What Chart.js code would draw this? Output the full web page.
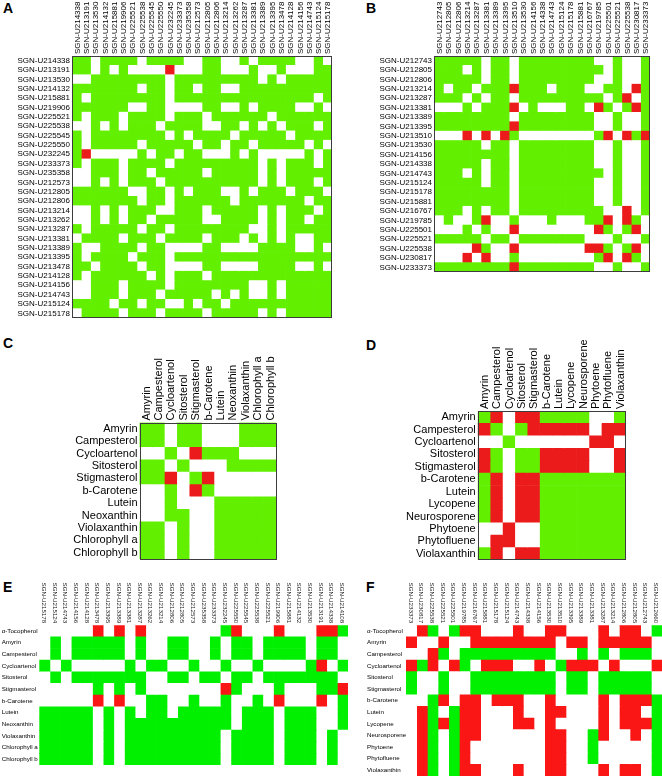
<!DOCTYPE html>
<html>
<head>
<meta charset="utf-8">
<script src="https://cdn.jsdelivr.net/npm/chart.js@4.4.1/dist/chart.umd.min.js"></script>
<style>
  body { margin: 0; background: #fff; width: 662px; height: 776px; position: relative; overflow: hidden; }
  canvas { position: absolute; }
  .tag { position: absolute; font: bold 14px Arial, "Liberation Sans", sans-serif; line-height: 14px; color: #000; }
</style>
</head>
<body>
<div class="tag" style="left:3px;top:1px">A</div>
<div class="tag" style="left:366px;top:1px">B</div>
<div class="tag" style="left:3px;top:336px">C</div>
<div class="tag" style="left:366px;top:338px">D</div>
<div class="tag" style="left:3px;top:580px">E</div>
<div class="tag" style="left:366px;top:580px">F</div>

<canvas id="chart-a" width="334" height="320" style="left:0;top:0"></canvas>
<canvas id="chart-b" width="312" height="274" style="left:340px;top:0"></canvas>
<canvas id="chart-c" width="258" height="231" style="left:20px;top:330px"></canvas>
<canvas id="chart-d" width="278" height="232" style="left:350px;top:330px"></canvas>
<canvas id="chart-e" width="348" height="195" style="left:0;top:570px"></canvas>
<canvas id="chart-f" width="302" height="206" style="left:360px;top:570px"></canvas>

<script>
// g = positive correlation (green), r = negative (red), . = not significant
const aGenes = ['SGN-U214338','SGN-U213191','SGN-U213530','SGN-U214132','SGN-U215881','SGN-U219906','SGN-U225521',
  'SGN-U225538','SGN-U225545','SGN-U225550','SGN-U232245','SGN-U233373','SGN-U235358','SGN-U212573','SGN-U212805',
  'SGN-U212806','SGN-U213214','SGN-U213262','SGN-U213287','SGN-U213381','SGN-U213389','SGN-U213395','SGN-U213478',
  'SGN-U214128','SGN-U214156','SGN-U214743','SGN-U215124','SGN-U215178'];
const aCells = [
  'gg.gggg.gggg..gg..g.gggg..g.',
  'gg.g.g....r...gg...g..g...gg',
  '..gggggggg.ggggggggg.g.ggggg',
  'ggggggg.gg.gg.gg..gggggggggg',
  'g.gggggggg.ggggggggggggggg.g',
  'gggggg..gg....gg..g.gggg..g.',
  'g.ggg.gggg.ggg.gggggg.gggggg',
  '..g.g.ggg.gggg..gg.g.g.ggg.g',
  'g.gggggggg.g.gggg.ggggg.gggg',
  'g.ggggg.ggggg.gg.gg.ggggg.g.',
  'gr.....g.gg.gg...g.g.....g.g',
  'g.ggg.gggg.ggggggggg.g.ggg.g',
  '..ggg.gg.ggggg.ggggg.g.ggggg',
  '..g.g.ggg.gggggggggg.g.ggg.g',
  'gggggg..gg.g.ggg..g.ggg.ggg.',
  'ggggggg.gg.gggggg.ggggggg.gg',
  '..g.g.ggg..ggg.ggggg.g.ggg.g',
  '..g.g.gg.ggggg..gggg.g.gg.gg',
  'g.ggggg.gg.gggggggg..g.ggggg',
  '.gggg.ggg.gggg.ggg.g.g.g..gg',
  'g..gggg.gg....gg....gggg..g.',
  'g.gggg.ggg.ggggggggggggggggg',
  'gg.gggg.gg....gg....gggg..g.',
  'g.gggggg.g.ggg.ggggggggggggg',
  '..ggg.gggg.gggggggg..g.ggggg',
  '..ggg.ggg.ggggg.g.g..g.ggggg',
  'gggg.gg.gg..g.gg.ggggggggggg',
  '.gggg.ggg.gggg.ggggg.g.ggggg'
];

const bGenes = ['SGN-U212743','SGN-U212805','SGN-U212806','SGN-U213214','SGN-U213287','SGN-U213381','SGN-U213389',
  'SGN-U213395','SGN-U213510','SGN-U213530','SGN-U214156','SGN-U214338','SGN-U214743','SGN-U215124','SGN-U215178',
  'SGN-U215881','SGN-U216767','SGN-U219785','SGN-U225501','SGN-U225521','SGN-U225538','SGN-U230817','SGN-U233373'];
const bCells = [
  'ggggg.gg.gggggggg..g..g',
  'ggg.g.gg.ggggggggg.g..g',
  'ggggg.gg.gggggggg..g..g',
  'g.gg.gggrggg.ggg..gg.rg',
  'ggg.g.gg.ggggggggg.gr.g',
  '...g.gggr.g...gg.rg.grg',
  'gggggggg.gggggggg..g..g',
  'ggggggggrgggggggg..g..g',
  '...r.r.rg........gr.rgr',
  'ggggg.gg.gggggggg..g..g',
  'gggggggg.gggggggg..g..g',
  'ggggg.gg.gggggggg..g..g',
  'ggg.g.gg.ggggggggg.g..g',
  'ggggg.gg.gggggggg..g..g',
  'gggggggg.gggggggg..g..g',
  'gggggggg.gggggggg..g..g',
  'ggg.g.gg.ggggggggg..r.g',
  '.g..gr..g...g...ggr.rg.',
  '...g.g..r........rg.gr.',
  'ggggg.gg.ggggggg...g..g',
  '....rg..r.......rrg.gr.',
  '...r.r..g........gr.rg.',
  'ggggggggrgggggggg..g..g'
];

const cMetabolites = ['Amyrin','Campesterol','Cycloartenol','Sitosterol','Stigmasterol','b-Carotene','Lutein',
  'Neoxanthin','Violaxanthin','Chlorophyll a','Chlorophyll b'];
const cCells = [
  'gg.gg...ggg',
  'gg.gg...ggg',
  '..g.rggg...',
  'gg.g...gggg',
  'ggr.gr.....',
  '..g.rg.....',
  '..g...ggggg',
  '..gg..ggggg',
  'gg.g..ggggg',
  'gg.g..ggggg',
  'gg.g..ggggg'
];

const dMetabolites = ['Amyrin','Campesterol','Cycloartenol','Sitosterol','Stigmasterol','b-Carotene','Lutein',
  'Lycopene','Neurosporene','Phytoene','Phytofluene','Violaxanthin'];
const dCells = [
  'gr.rrgggg..g',
  'rg.grrrrr.rr',
  '..g......rr.',
  'rg.ggrrrr..r',
  'rg.ggrrrr..r',
  'gr.rrggggggg',
  'gr.rrggggggg',
  'gr.rrggggggg',
  'gr.rrggggggg',
  '..r..ggggggg',
  '.rr..ggggggg',
  'gr.rrggggggg'
];

const eGenes = ['SGN-U215178','SGN-U215124','SGN-U214743','SGN-U214156','SGN-U214128','SGN-U213478','SGN-U213395',
  'SGN-U213389','SGN-U213381','SGN-U213287','SGN-U213262','SGN-U213214','SGN-U212806','SGN-U212805','SGN-U212573',
  'SGN-U235358','SGN-U233373','SGN-U232245','SGN-U225550','SGN-U225545','SGN-U225538','SGN-U225521','SGN-U219906',
  'SGN-U215881','SGN-U214132','SGN-U213530','SGN-U213191','SGN-U214338','SGN-U214108'];
const eMetabolites = ['\u03b1-Tocopherol','Amyrin','Campesterol','Cycloartenol','Sitosterol','Stigmasterol',
  'b-Carotene','Lutein','Neoxanthin','Violaxanthin','Chlorophyll a','Chlorophyll b'];
const eCells = [
  '.....r.r.r.......gr...r...rrg',
  '.g.ggggg.g..gg..g.gg.gggg.gg.',
  '.g.ggggg.g..gg..g.gg.gggg.gg.',
  'g.g.....g.gg..g..g..g....gr.g',
  '.g.ggggggg..gg.gg.gg.ggggggg.',
  '.....g.g.g.......rg...g...ggr',
  '.....r.r..gg..g..g..g.r...r.g',
  'ggggg.g.g.gg.ggggg.ggg.ggg..g',
  'ggggg.g.gggggggggg.ggg.ggg..g',
  'ggggg.g.ggggggggg.gggg.ggg.g.',
  'ggggg.g.ggggggggg.gggg.ggg.g.',
  'ggggg.g.ggggggggg.gggg.ggg.g.'
];

const fGenes = ['SGN-U233373','SGN-U230817','SGN-U225538','SGN-U225521','SGN-U225501','SGN-U219785','SGN-U216767',
  'SGN-U215881','SGN-U215178','SGN-U215124','SGN-U214743','SGN-U214338','SGN-U214156','SGN-U213530','SGN-U213510',
  'SGN-U213395','SGN-U213389','SGN-U213381','SGN-U213287','SGN-U213214','SGN-U212806','SGN-U212805','SGN-U212743',
  'SGN-U212660'];
const fMetabolites = ['\u03b1-Tocopherol','Amyrin','Campesterol','Cycloartenol','Sitosterol','Stigmasterol',
  'b-Carotene','Lutein','Lycopene','Neurosporene','Phytoene','Phytofluene','Violaxanthin'];
const fCells = [
  '.rg.grr...r..rr...r.rr.g',
  'r..r..rrrrrrrr.rr.rrrrr.',
  '..rg.ggggggggg..g.g.ggg.',
  'rgr.rg.rrr..r.grrr.r...r',
  'g..g..gggggggg.gg.ggggg.',
  'g..g..gggggggg.gg.ggggg.',
  '..gr.rr.rrr..r....r.rrrg',
  '.rg.grr...r..rr...r.rr.g',
  '.rgrgrr...rr.r....r.rrrg',
  '.rg.grr......rr..gr..r.g',
  '.rg.gr.......rr..g.....g',
  '.rg.gr.......rr..g.....g',
  '.rg.grr...r..rr...r.rr.g'
];

const FONT = 'Arial, "Liberation Sans", sans-serif';

const framePlugin = {
  id: 'frame',
  afterDatasetsDraw(chart, args, opts) {
    if (!opts.show) return;
    const { ctx, chartArea: a } = chart;
    ctx.save();
    ctx.strokeStyle = '#3c3c3c';
    ctx.lineWidth = 1;
    ctx.strokeRect(Math.round(a.left) + 0.5, Math.round(a.top) + 0.5,
      Math.round(a.right - a.left) - 1, Math.round(a.bottom - a.top) - 1);
    ctx.restore();
  }
};

function textWidth(text, size) {
  const ctx = document.createElement('canvas').getContext('2d');
  ctx.font = size + 'px ' + FONT;
  return ctx.measureText(text).width;
}

function heatmap(id, rows, cols, cells, o) {
  const colours = { g: o.green, r: o.red, '.': '#ffffff' };
  const datasets = cols.map((c, j) => ({
    label: c,
    data: rows.map(() => 1),
    backgroundColor: rows.map((r, i) => colours[cells[i][j]]),
    borderWidth: 0,
    barPercentage: 1,
    categoryPercentage: 1,
    xAxisID: 'x',
    yAxisID: 'y'
  }));
  // rotated labels sit about one line-height off their column, pull them back
  const shift = (o.colFont * 1.2 + 0.9) * (o.rot > 0 ? 1 : -1);
  return new Chart(document.getElementById(id), {
    type: 'bar',
    data: { labels: rows, datasets },
    options: {
      indexAxis: 'y',
      responsive: false,
      animation: false,
      events: [],
      layout: { padding: o.pad },
      plugins: { legend: { display: false }, tooltip: { enabled: false }, frame: { show: o.frame } },
      scales: {
        x: { type: 'linear', stacked: true, min: 0, max: cols.length, display: false },
        y: {
          type: 'category', stacked: true,
          grid: { display: false, drawTicks: false }, border: { display: false },
          afterFit: s => { s.width = o.yWidth; s.paddingTop = 0; s.paddingBottom = 0; },
          ticks: { autoSkip: false, color: '#000', padding: o.rowPad, crossAlign: o.rowAlign || 'near',
                   font: { family: FONT, size: o.rowFont } }
        },
        x2: {
          type: 'category', labels: cols, position: 'top', offset: true,
          grid: { display: false, drawTicks: false }, border: { display: false },
          afterFit: s => { s.height = o.xHeight; s.paddingLeft = 0; s.paddingRight = 0; },
          ticks: { autoSkip: false, color: o.colColor || '#000', minRotation: o.rot, maxRotation: o.rot,
                   padding: o.colPad, labelOffset: shift, font: { family: FONT, size: o.colFont } }
        }
      }
    },
    plugins: [framePlugin]
  });
}

const GREEN_AD = '#62f000', RED_AD = '#ec1b1b';
const GREEN_EF = '#00f000', RED_EF = '#fb1616';

heatmap('chart-a', aGenes, aGenes, aCells, {
  green: GREEN_AD, red: RED_AD, frame: true, pad: { right: 2, bottom: 2 },
  yWidth: 72, xHeight: 56, rowFont: 8, colFont: 8, rowPad: 2, colPad: 2, rot: 90
});
heatmap('chart-b', bGenes, bGenes, bCells, {
  green: GREEN_AD, red: RED_AD, frame: true, pad: { right: 2, bottom: 2 },
  yWidth: 94, xHeight: 56, rowFont: 8, colFont: 8, rowPad: 2, colPad: 2, rot: 90
});
heatmap('chart-c', cMetabolites, cMetabolites, cCells, {
  green: GREEN_AD, red: RED_AD, frame: true, pad: { right: 2, bottom: 2 },
  yWidth: 119.5, xHeight: 92.5, rowFont: 11, colFont: 11, rowPad: 2, colPad: 2, rot: 90
});
heatmap('chart-d', dMetabolites, dMetabolites, dCells, {
  green: GREEN_AD, red: RED_AD, frame: true, pad: { right: 2, bottom: 2 },
  yWidth: 127.7, xHeight: 81, rowFont: 11, colFont: 11, rowPad: 2, colPad: 2, rot: 90
});
// E and F: gene labels read downwards, so rotate the other way and pull them back above the grid
const efLabel = textWidth('SGN-U215178', 6.2);
heatmap('chart-e', eMetabolites, eGenes, eCells, {
  green: GREEN_EF, red: RED_EF, frame: false, pad: { left: 1.7 },
  yWidth: 37.6, xHeight: 55.2, rowFont: 6.2, colFont: 6.2, rowPad: 0, rowAlign: 'far',
  colPad: efLabel + 2, rot: -90, colColor: '#222'
});
heatmap('chart-f', fMetabolites, fGenes, fCells, {
  green: GREEN_EF, red: RED_EF, frame: false, pad: { left: 7 },
  yWidth: 39, xHeight: 55.2, rowFont: 6.2, colFont: 6.2, rowPad: 0, rowAlign: 'far',
  colPad: efLabel + 2, rot: -90, colColor: '#222'
});
</script>
</body>
</html>
